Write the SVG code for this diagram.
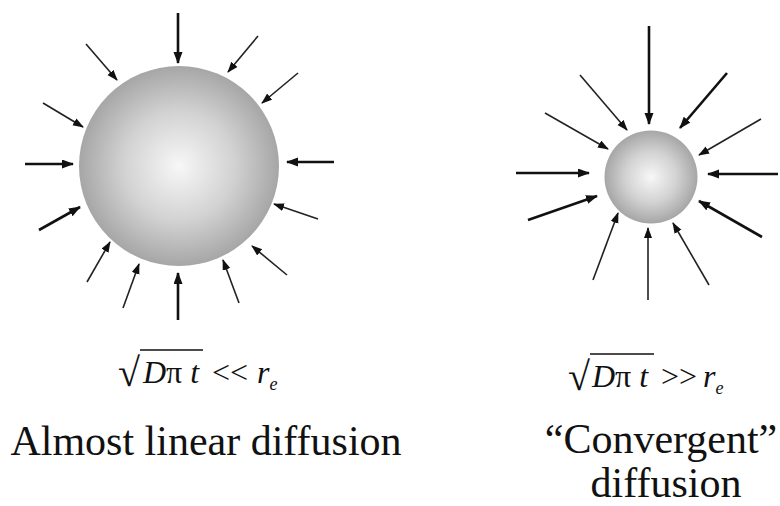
<svg xmlns="http://www.w3.org/2000/svg" width="780" height="506" viewBox="0 0 780 506">
<defs>
<radialGradient id="sph" cx="0.5" cy="0.5" r="0.5">
<stop offset="0" stop-color="#f7f7f7"/>
<stop offset="0.55" stop-color="#d2d2d2"/>
<stop offset="1" stop-color="#a6a6a6"/>
</radialGradient>
<marker id="ah" markerUnits="userSpaceOnUse" markerWidth="14" markerHeight="10" refX="11" refY="4.5" orient="auto">
<path d="M0,0 L12,4.5 L0,9 z" fill="#111"/>
</marker>
<marker id="ahs" markerUnits="userSpaceOnUse" markerWidth="14" markerHeight="10" refX="10" refY="4" orient="auto">
<path d="M0,0 L11,4 L0,8 z" fill="#111"/>
</marker>
</defs>
<style>
.a{stroke:#111;fill:none;stroke-width:2.6;marker-end:url(#ah)}
.t{stroke:#222;fill:none;stroke-width:1.6;marker-end:url(#ahs)}
.f{font-family:"Liberation Serif","Times New Roman",serif;fill:#111}
.lab{font-size:42px}
.m{font-size:32px;font-style:italic}
.op{font-size:32px}
.rad{font-size:40px}
.ov{stroke:#111;stroke-width:1.6}
</style>
<rect width="780" height="506" fill="#fff"/>
<g id="sphere-left"><circle cx="179" cy="166" r="100" fill="url(#sph)"/></g>
<g id="sphere-right"><circle cx="651" cy="177" r="46.5" fill="url(#sph)"/></g>
<g id="connectors">
<line class="a" x1="178" y1="13" x2="178" y2="63"/>
<line class="t" x1="258" y1="36" x2="228" y2="72"/>
<line class="t" x1="298" y1="73" x2="262" y2="103"/>
<line class="a" x1="334" y1="162" x2="287" y2="162"/>
<line class="t" x1="318" y1="219" x2="274" y2="204"/>
<line class="t" x1="287" y1="275" x2="252" y2="246"/>
<line class="t" x1="239" y1="303" x2="223" y2="260"/>
<line class="a" x1="178" y1="320" x2="178" y2="273"/>
<line class="t" x1="123" y1="308" x2="139" y2="264"/>
<line class="t" x1="87" y1="282" x2="110" y2="242"/>
<line class="a" x1="39" y1="230" x2="80" y2="207"/>
<line class="a" x1="25" y1="164" x2="73" y2="164"/>
<line class="t" x1="43" y1="103" x2="83" y2="127"/>
<line class="t" x1="86" y1="44" x2="117" y2="80"/>

<line class="a" x1="649" y1="26" x2="649" y2="124"/>
<line class="a" x1="727" y1="73" x2="680" y2="128"/>
<line class="t" x1="761" y1="119" x2="699" y2="155"/>
<line class="a" x1="778" y1="174" x2="708" y2="174"/>
<line class="a" x1="762" y1="237" x2="699" y2="201"/>
<line class="t" x1="709" y1="285" x2="673" y2="223"/>
<line class="t" x1="648" y1="300" x2="648" y2="228"/>
<line class="t" x1="593" y1="280" x2="618" y2="213"/>
<line class="a" x1="528" y1="220" x2="597" y2="196"/>
<line class="a" x1="516" y1="173" x2="589" y2="173"/>
<line class="t" x1="545" y1="113" x2="608" y2="149"/>
<line class="t" x1="580" y1="75" x2="627" y2="130"/>
</g>
<g id="formula-left">
<text class="f rad" x="118" y="386">√</text>
<line class="ov" x1="140" y1="350" x2="203" y2="350"/>
<text class="f m" x="143" y="383">D<tspan font-style="normal">π</tspan> t</text>
<text class="f op" x="212" y="383">&lt;&lt;</text>
<text class="f m" x="257" y="383">r<tspan font-size="18" dy="7">e</tspan></text>
</g>
<g id="formula-right">
<text class="f rad" x="568" y="390">√</text>
<line class="ov" x1="590" y1="354" x2="654" y2="354"/>
<text class="f m" x="592" y="387">D<tspan font-style="normal">π</tspan> t</text>
<text class="f op" x="661" y="387">&gt;&gt;</text>
<text class="f m" x="703" y="387">r<tspan font-size="18" dy="7">e</tspan></text>
</g>
<g id="label-left"><text class="f lab" x="206" y="455" text-anchor="middle">Almost linear diffusion</text></g>
<g id="label-right">
<text class="f lab" x="661" y="453" text-anchor="middle">“Convergent”</text>
<text class="f lab" x="666" y="497" text-anchor="middle">diffusion</text>
</g>
</svg>
